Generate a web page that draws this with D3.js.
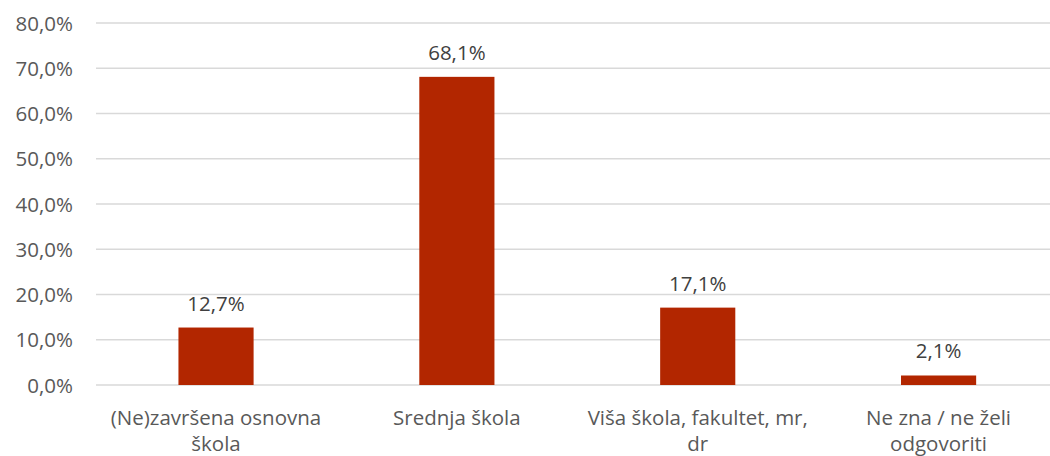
<!DOCTYPE html>
<html><head><meta charset="utf-8">
<script src="https://cdn.jsdelivr.net/npm/d3@7"></script>
<style>body{margin:0;background:#fff}svg{display:block}text{font-family:"Open Sans",sans-serif}</style>
</head><body><svg id="c" width="1050" height="456"></svg>
<script>
const categories = ["(Ne)završena osnovna škola", "Srednja škola", "Viša škola, fakultet, mr, dr", "Ne zna / ne želi odgovoriti"];
const categoryLines = [["(Ne)završena osnovna", "škola"], ["Srednja škola"], ["Viša škola, fakultet, mr,", "dr"], ["Ne zna / ne želi", "odgovoriti"]];
const values = [12.7, 68.1, 17.1, 2.1];
const yTicks = [0, 10, 20, 30, 40, 50, 60, 70, 80];

const svg = d3.select("#c");
const x = d3.scaleBand().domain(categories).range([95.6, 1059]).paddingInner(0.688).paddingOuter(0.344);
const y = d3.scaleLinear().domain([0, 80]).range([385, 23]);
const fmt = v => v.toFixed(1).replace(".", ",") + "%";

svg.append("g").selectAll("line").data(yTicks).join("line")
  .attr("x1", 96).attr("x2", 1059).attr("y1", d => y(d)).attr("y2", d => y(d))
  .attr("stroke", "#d9d9d9").attr("stroke-width", 1.3);

svg.append("g").selectAll("text").data(yTicks).join("text")
  .attr("x", 73).attr("y", d => y(d) + 7.5).attr("text-anchor", "end")
  .attr("font-size", 20.5).attr("fill", "#595959").text(d => fmt(d));

svg.append("g").selectAll("rect").data(values).join("rect")
  .attr("x", (d, i) => x(categories[i])).attr("width", x.bandwidth())
  .attr("y", d => y(d)).attr("height", d => y(0) - y(d)).attr("fill", "#b22600");

svg.append("g").selectAll("text").data(values).join("text")
  .attr("x", (d, i) => x(categories[i]) + x.bandwidth() / 2).attr("y", d => y(d) - 17)
  .attr("text-anchor", "middle").attr("font-size", 20.5).attr("fill", "#404040").text(d => fmt(d));

const cat = svg.append("g").selectAll("text").data(categories).join("text")
  .attr("x", d => x(d) + x.bandwidth() / 2).attr("y", 425)
  .attr("text-anchor", "middle").attr("font-size", 20.5).attr("fill", "#595959");
cat.each(function(d, i) {
  d3.select(this).selectAll("tspan").data(categoryLines[i]).join("tspan")
    .attr("x", x(d) + x.bandwidth() / 2).attr("dy", (t, j) => j === 0 ? 0 : 26).text(t => t);
});
</script></body></html>
